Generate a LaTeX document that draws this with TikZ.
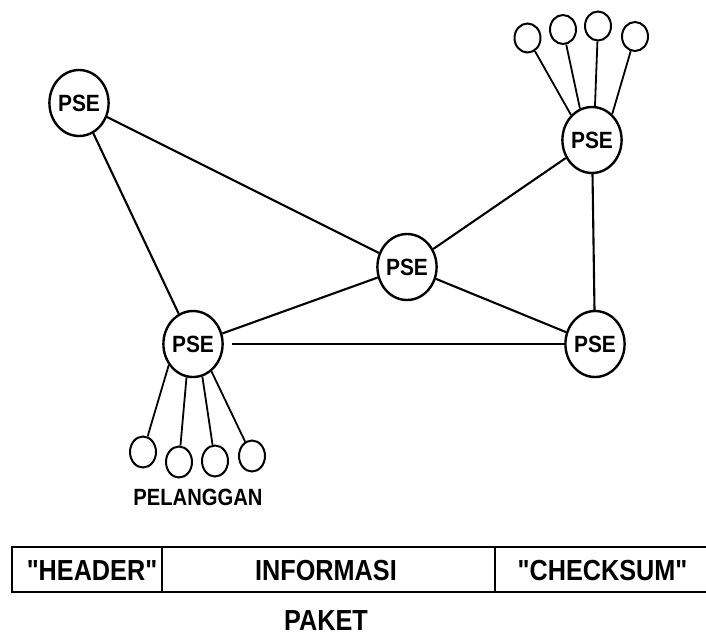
\documentclass[tikz,border=0pt]{standalone}
\usepackage{fontspec}
\usepackage{graphicx}
\setmainfont{Liberation Sans}[Ligatures=TeXOff]
\usetikzlibrary{shapes.geometric}
\newcommand{\narrowtext}[2]{\scalebox{#1}[1]{#2}}
\begin{document}
\begin{tikzpicture}[x=1pt,y=-1pt,
  pse/.style={ellipse, draw, line width=2.4pt, minimum width=57pt, minimum height=66pt,
    inner sep=0pt, font=\fontsize{23.5}{23.5}\selectfont\bfseries},
  user/.style={ellipse, draw, line width=2pt, minimum width=26pt, minimum height=29pt,
    inner sep=0pt},
  link/.style={line width=2.1pt},
  tap/.style={line width=1.8pt},
  lbl/.style={inner sep=0pt, anchor=base},
  cell/.style={lbl, font=\fontsize{29}{29}\selectfont\bfseries},
  frame/.style={line width=1.9pt}
]
\useasboundingbox (0,0) rectangle (706,635);

% switching exchanges
\node[pse] (A)  at (79,103)  {\narrowtext{0.89}{PSE}};
\node[pse] (C)  at (407,267) {\narrowtext{0.89}{PSE}};
\node[pse] (TR) at (592,140) {\narrowtext{0.89}{PSE}};
\node[pse] (BR) at (595,344) {\narrowtext{0.89}{PSE}};
\node[pse] (BL) at (193,344) {\narrowtext{0.89}{PSE}};

% subscribers on the upper right exchange
\node[user] (t1) at (527.5,38) {};
\node[user] (t2) at (563,29.5) {};
\node[user] (t3) at (598,26)   {};
\node[user] (t4) at (635,36.5) {};

% subscribers on the lower left exchange
\node[user, minimum height=31pt] (b1) at (143,452) {};
\node[user, minimum height=31pt] (b2) at (179,462) {};
\node[user, minimum height=31pt] (b3) at (215,461) {};
\node[user, minimum height=31pt] (b4) at (252,456) {};

\node[lbl, font=\fontsize{23.5}{23.5}\selectfont\bfseries] (plg) at (198,505)
  {\narrowtext{0.86}{PELANGGAN}};

% trunk lines between exchanges
\draw[link] (A) -- (BL);
\draw[link] (A) -- (C);
\draw[link] (C) -- (BL);
\draw[link] (C) -- (TR);
\draw[link] (C) -- (BR);
\draw[link] (TR) -- (BR);
\draw[link, shorten <=8pt] (BL) -- (BR);

% subscriber lines
\draw[tap] (TR.130) -- (t1);
\draw[tap] (TR.111) -- (t2);
\draw[tap] (TR.85)  -- (t3);
\draw[tap] (TR.52)  -- (t4);
\draw[tap] (BL.221) -- (b1);
\draw[tap] (BL.259) -- (b2);
\draw[tap] (BL.286) -- (b3);
\draw[tap] (BL.304) -- (b4);

% packet layout
\draw[frame] (706,547) -- (12,547) -- (12,592) -- (706,592);
\draw[frame] (162,547) -- (162,592);
\draw[frame] (495,547) -- (495,592);
\node[cell] (hdr)  at (92,580)    {\narrowtext{0.87}{"HEADER"}};
\node[cell] (info) at (326,580)   {\narrowtext{0.87}{INFORMASI}};
\node[cell] (cks)  at (602.5,580) {\narrowtext{0.87}{"CHECKSUM"}};
\node[cell] (pkt)  at (326,630)   {\narrowtext{0.87}{PAKET}};
\end{tikzpicture}
\end{document}
